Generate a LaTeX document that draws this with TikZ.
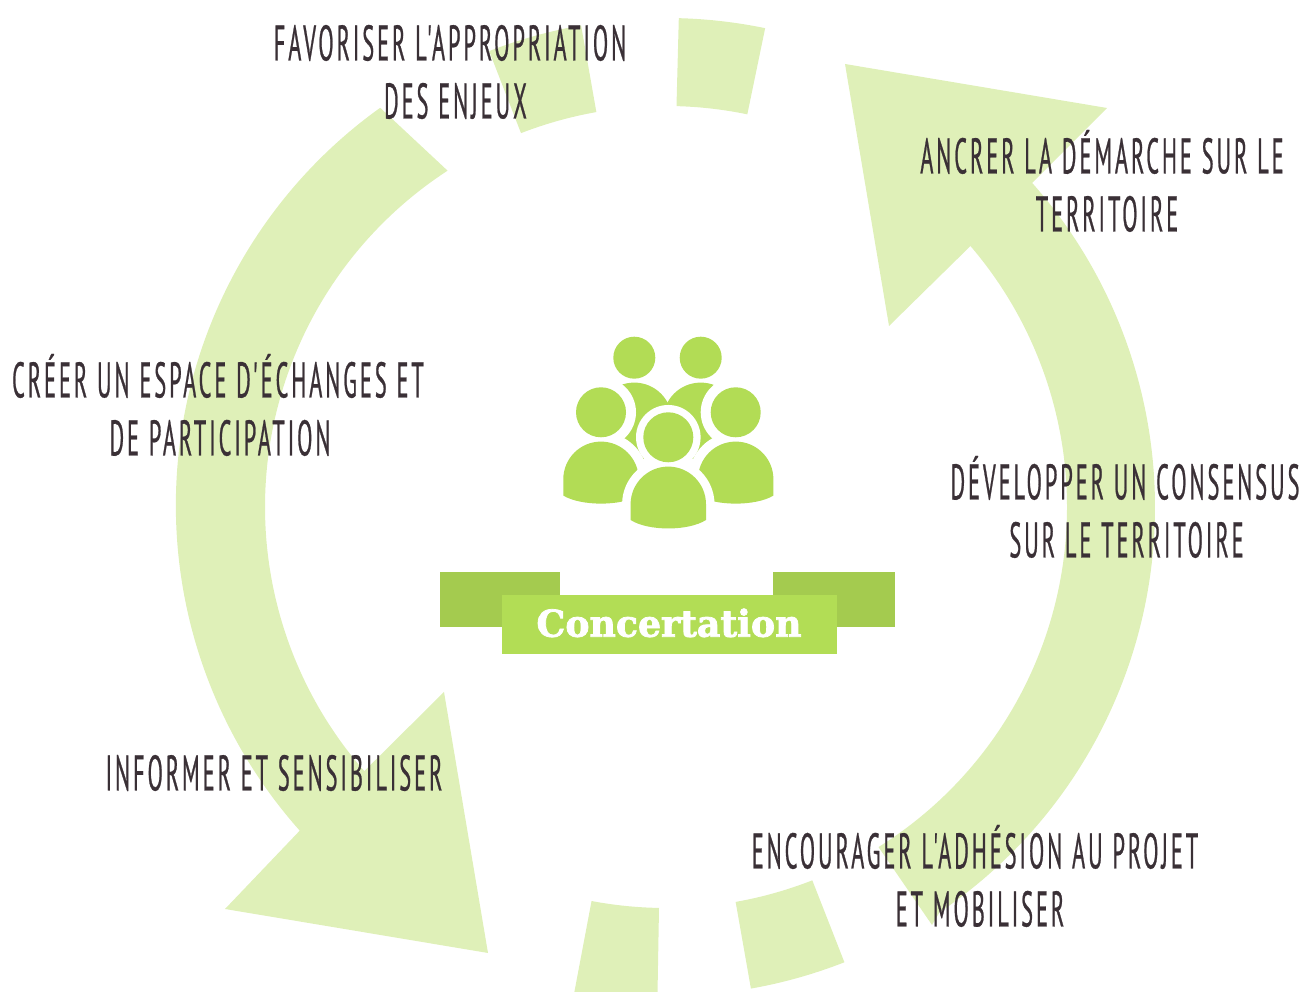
\documentclass[tikz,border=0pt]{standalone}
\usepackage{fontspec}
\newfontfamily\labfont[FakeStretch=0.447,LetterSpace=5.9,WordSpace=1.1,FakeBold=0.5]{PT Sans}
\newfontfamily\banfont[FakeStretch=0.98,FakeBold=2]{DejaVu Serif}
\definecolor{ring}{HTML}{DFF0B8}
\definecolor{icon}{HTML}{B2DC55}
\definecolor{bandark}{HTML}{A4CB4F}
\definecolor{banlight}{HTML}{B2DD55}
\definecolor{ink}{HTML}{3A3036}
\tikzset{
  ringpart/.style={fill=ring,draw=none},
  lab/.style={text=ink,align=center,inner sep=0pt,font=\labfont\fontsize{50}{58}\selectfont},
  ban/.style={fill=#1,draw=none,inner sep=0pt},
}
\newcommand{\tile}[3]{\fill[ringpart] ($(C)+(#1:#3)$) arc (#1:#2:#3) -- ($(C)+(#2:401)$) arc (#2:#1:401) -- cycle;}
\newcommand{\pbodypath}[4]{(#1-37.7,#2) -- (#1-37.7,#2-#3) .. controls (#1-20,#2-#4) and (#1+20,#2-#4) .. (#1+37.7,#2-#3) -- (#1+37.7,#2) arc (0:180:37.7) -- cycle}
\usetikzlibrary{calc}
\begin{document}
\begin{tikzpicture}[x=1pt,y=1pt]
\useasboundingbox (0,0) rectangle (1306,992);
\clip (0,0) rectangle (1306,992);
\coordinate (C) at (666,485);
% ring
\tile{88.5}{78.3}{489}
\tile{111.2}{100}{489}
\tile{-80}{-68.6}{489}
\tile{259.3}{269}{497}
\fill[ringpart] ($(C)+(125.6:491)$) arc (125.6:221.7:489) -- (225,83) -- (488,39) -- (444,300) -- ($(C)+(221.2:401)$) arc (221.2:123:401) -- cycle;
\fill[ringpart] ($(C)+(41.5:489)$) arc (41.5:-56:489) -- (932,67) -- ($(C)+(-58:401)$) arc (-58:40.6:401) -- (889,666) -- (845,928) -- (1107,884) -- cycle;
% people icon
\fill[icon] \pbodypath{634.3}{571.7}{35}{40};
\fill[icon] \pbodypath{700.7}{571.7}{35}{40};
\fill[icon] (634.3,634.3) circle (21);
\fill[icon] (700.7,634.3) circle (21);
\fill[white] (601,579.7) circle (35);
\fill[white] (735.7,579.7) circle (35);
\draw[white,line width=19pt] \pbodypath{601}{512.7}{16.3}{27};
\draw[white,line width=19pt] \pbodypath{735.7}{512.7}{16.3}{27};
\fill[icon] \pbodypath{601}{512.7}{16.3}{27};
\fill[icon] \pbodypath{735.7}{512.7}{16.3}{27};
\fill[icon] (601,579.7) circle (25);
\fill[icon] (735.7,579.7) circle (25);
\fill[white] (668.3,554.7) circle (32.3);
\draw[white,line width=17pt] \pbodypath{668.3}{487.7}{15.7}{27};
\fill[icon] \pbodypath{668.3}{487.7}{15.7}{27};
\fill[icon] (668.3,554.7) circle (25);
% banner
\node[ban=bandark,minimum width=120.2pt,minimum height=54.6pt,anchor=south west] (bl) at (439.5,364.7) {};
\node[ban=bandark,minimum width=121.3pt,minimum height=54.6pt,anchor=south west] (br) at (773,364.7) {};
\node[ban=banlight,minimum width=335pt,minimum height=58.3pt,anchor=south west,text=white,font=\banfont\bfseries\fontsize{37}{40}\selectfont] (title) at (501.3,338) {\raisebox{4pt}{Concertation}};
% labels
\node[lab] (l1) at (450,920) {FAVORISER L'APPROPRIATION\\\hspace*{11pt}DES ENJEUX};
\node[lab] (l2) at (1102,811) {ANCRER LA DÉMARCHE SUR LE\\\hspace*{10pt}TERRITOIRE};
\node[lab] (l3) at (218,587) {CRÉER UN ESPACE D'ÉCHANGES ET\\\hspace*{4pt}DE PARTICIPATION};
\node[lab] (l4) at (1125,485) {DÉVELOPPER UN CONSENSUS\\\hspace*{3pt}SUR LE TERRITOIRE};
\node[lab] (l5) at (274,219) {INFORMER ET SENSIBILISER};
\node[lab] (l6) at (975,116) {ENCOURAGER L'ADHÉSION AU PROJET\\\hspace*{10pt}ET MOBILISER};
\end{tikzpicture}
\end{document}
